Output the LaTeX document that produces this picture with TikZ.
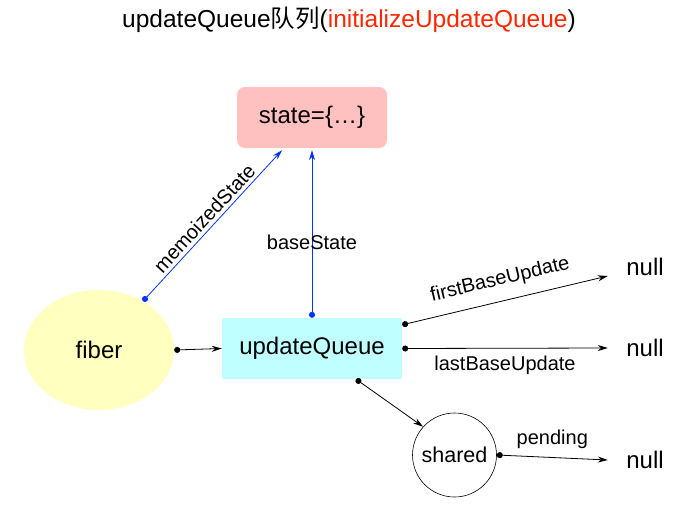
\documentclass[tikz,border=0pt]{standalone}
\usepackage{fontspec}
\setmainfont{Liberation Sans}
\newfontfamily\cjk{Noto Sans CJK SC}
\usetikzlibrary{positioning}
\usetikzlibrary{shapes}
\usetikzlibrary{arrows.meta}
\definecolor{statepink}{RGB}{255,192,192}
\definecolor{fiberyellow}{RGB}{255,255,192}
\definecolor{queuecyan}{RGB}{192,255,255}
\definecolor{titlered}{RGB}{255,38,0}
\definecolor{ptrblue}{RGB}{4,51,255}
\begin{document}
\begin{tikzpicture} [x=1pt,y=-1pt,
            ptr/.style={{Circle[length=6pt]}-{Stealth[length=10pt,width=6pt]},line width=0.8pt},
            blueptr/.style={ptr,color=ptrblue},
            lbl/.style={font=\fontsize{20}{23}\selectfont,color=black},
            big/.style={font=\fontsize{24}{28}\selectfont},
         every node/.append style={align=center}]
\path[use as bounding box] (0,0) rectangle (698,530);

%title
\node (title) at (349,20) [font=\fontsize{24.5}{28}\selectfont]{updateQueue{\cjk 队列}(\textcolor{titlered}{initializeUpdateQueue})};

%state
\node (state) at (312,117.5) [big,fill=statepink,rounded corners=8pt,minimum width=150pt,minimum height=61pt]{state=\{\ldots\}};

%fiber
\node (fiber) at (99,350) [big,fill=fiberyellow,ellipse,minimum width=150pt,minimum height=120pt]{fiber};
\node (queue) at (312,348.5) [big,fill=queuecyan,minimum width=180pt,minimum height=61pt]{updateQueue};
\node (shared) at (454.5,455) [draw,circle,line width=0.6pt,minimum size=84pt,font=\fontsize{21.5}{25}\selectfont]{shared};

%null
\node (null1) at (645,267) [big]{null};
\node (null2) at (645,348) [big]{null};
\node (null3) at (645,460) [big]{null};

\draw [blueptr] (fiber.48) -- node[lbl,midway,sloped,above]{memoizedState} ([xshift=-30pt,yshift=-2pt]state.south);
\draw [blueptr] (queue.north) -- node[lbl,pos=0.45]{baseState} ([yshift=-2pt]state.south);
\draw [ptr] (fiber.east) -- (queue.west);
\draw [ptr] ([yshift=-7pt]queue.north east) -- node[lbl,midway,sloped,above=8pt]{firstBaseUpdate} ([xshift=-15pt,yshift=-9pt]null1.west);
\draw [ptr] (queue.east) -- node[lbl,midway,below=4pt]{lastBaseUpdate} ([xshift=-15pt]null2.west);
\draw [ptr] ([xshift=44pt]queue.south) -- (shared.138);
\draw [ptr] (shared.east) -- node[lbl,midway,above=5pt]{pending} ([xshift=-15pt]null3.west);

\end{tikzpicture}
\end{document}
